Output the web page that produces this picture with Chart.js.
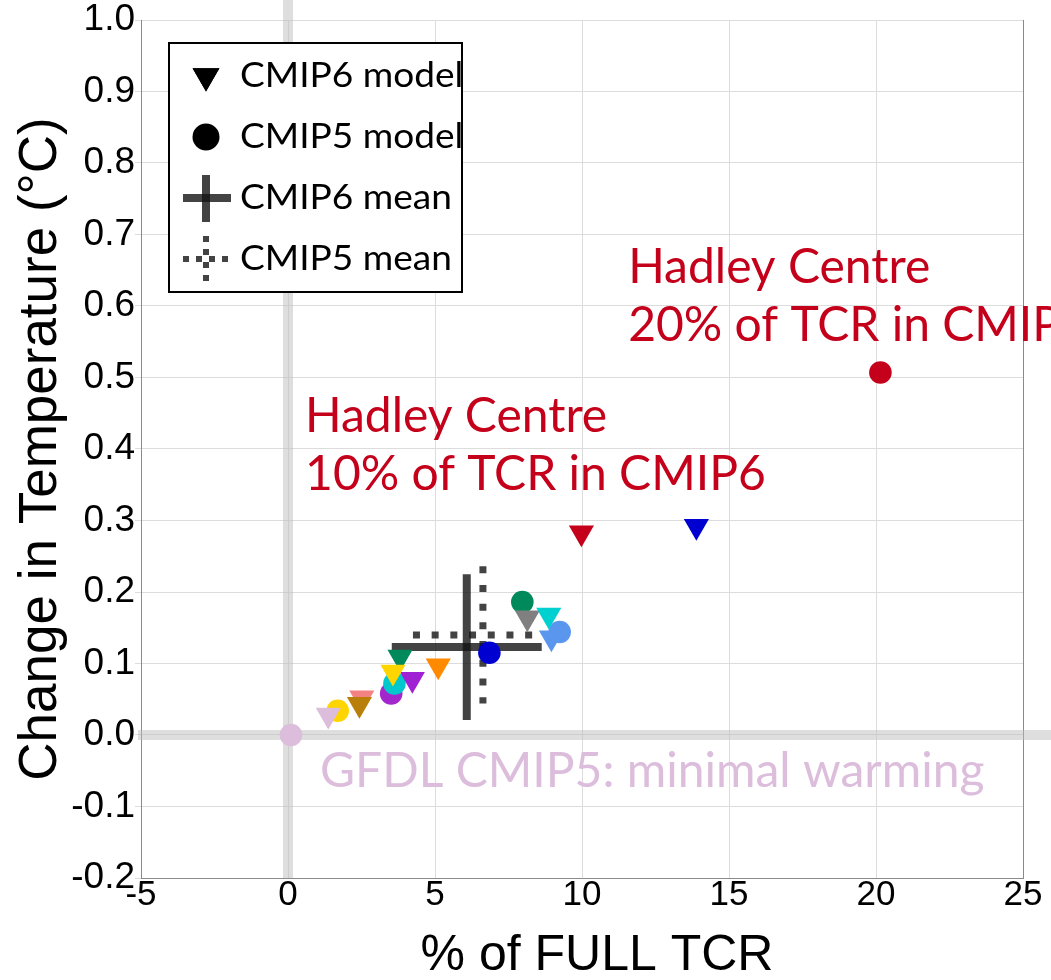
<!DOCTYPE html>
<html>
<head>
<meta charset="utf-8">
<script src="https://cdn.jsdelivr.net/npm/chart.js@4.4.1/dist/chart.umd.min.js"></script>
<style>
  html, body { margin: 0; padding: 0; background: #fff; }
  #wrap { width: 1051px; height: 980px; }
</style>
</head>
<body>
<div id="wrap"><canvas id="chart"></canvas></div>
<script>
// CMIP6 models, drawn as downward triangles
const cmip6X = [1.37, 2.51, 2.43, 3.81, 4.23, 5.11, 3.57, 8.14, 8.87, 8.96, 9.98, 13.89];
const cmip6Y = [0.028, 0.052, 0.043, 0.109, 0.078, 0.097, 0.088, 0.164, 0.168, 0.136, 0.283, 0.292];
const cmip6Colors = ['#dcbedc', '#f58282', '#b8800a', '#00895a', '#a020d4', '#ff8a00', '#ffd500',
                     '#808080', '#00d0d0', '#5b96ee', '#c4001b', '#0000d0'];

// CMIP5 models, drawn as circles
const cmip5X = [0.1, 1.69, 3.51, 3.62, 6.85, 7.97, 9.24, 20.15];
const cmip5Y = [0.0, 0.034, 0.058, 0.072, 0.115, 0.186, 0.144, 0.507];
const cmip5Colors = ['#dcbedc', '#ffd500', '#a228cc', '#00c8cc', '#0000d0', '#00895a', '#5b96ee', '#c4001b'];

// ensemble means [CMIP6, CMIP5] and the half length of each cross arm
const meanX = [6.08, 6.63];
const meanY = [0.123, 0.14];
const meanSpreadX = [2.55, 2.38];
const meanSpreadY = [0.102, 0.096];

const xTickValues = [-5, 0, 5, 10, 15, 20, 25];
const yTickValues = [-0.2, -0.1, 0.0, 0.1, 0.2, 0.3, 0.4, 0.5, 0.6, 0.7, 0.8, 0.9, 1.0];

const RED = '#c4001b';
const THISTLE = '#dcbedc';
const MEAN_COLOR = 'rgba(20,20,20,0.8)';

// text labels placed in data units
const notes = [
  { lines: ['Hadley Centre', '10% of TCR in CMIP6'], x: 0.58, y: 0.4236, color: RED },
  { lines: ['Hadley Centre', '20% of TCR in CMIP5'], x: 11.57, y: 0.632, color: RED },
  { lines: ['GFDL CMIP5: minimal warming'], x: 1.09, y: -0.0727, color: THISTLE }
];

const legendItems = [
  { label: 'CMIP6 model', kind: 'triangle' },
  { label: 'CMIP5 model', kind: 'circle' },
  { label: 'CMIP6 mean', kind: 'cross' },
  { label: 'CMIP5 mean', kind: 'dotted' }
];

Chart.defaults.font.family = "'Liberation Sans', Arial, sans-serif";
Chart.defaults.color = '#000';

function arm(x0, y0, x1, y1, dotted) {
  return {
    data: [{ x: x0, y: y0 }, { x: x1, y: y1 }],
    showLine: true,
    pointRadius: 0,
    borderColor: MEAN_COLOR,
    borderWidth: dotted ? 7 : 8,
    borderDash: dotted ? [7, 11.7] : [],
    borderCapStyle: 'butt',
    order: 1
  };
}

// wide pale lines through zero on both axes
const zeroBands = {
  id: 'zeroBands',
  beforeDatasetsDraw(chart) {
    const { ctx, chartArea, scales: { x, y } } = chart;
    const x0 = x.getPixelForValue(0);
    const y0 = y.getPixelForValue(0);
    ctx.save();
    ctx.strokeStyle = 'rgba(190,190,190,0.5)';
    ctx.lineWidth = 10;
    ctx.beginPath();
    ctx.moveTo(x0, 0);
    ctx.lineTo(x0, chartArea.bottom);
    ctx.moveTo(chartArea.left - 3, y0);
    ctx.lineTo(chart.width, y0);
    ctx.stroke();
    ctx.restore();
  }
};

const notesPlugin = {
  id: 'notes',
  afterDraw(chart) {
    const { ctx, scales: { x, y } } = chart;
    ctx.save();
    ctx.font = "48px Lato, 'Noto Sans', sans-serif";
    ctx.textBaseline = 'alphabetic';
    ctx.textAlign = 'left';
    notes.forEach(n => {
      ctx.fillStyle = n.color;
      const px = x.getPixelForValue(n.x);
      const py = y.getPixelForValue(n.y);
      n.lines.forEach((t, i) => ctx.fillText(t, px, py + i * 58));
    });
    // x axis title
    ctx.fillStyle = '#000';
    ctx.font = "50px 'Liberation Sans', Arial, sans-serif";
    ctx.textAlign = 'center';
    ctx.fillText('% of FULL TCR', 597, 970);
    ctx.restore();
  }
};

const legendBox = {
  id: 'legendBox',
  afterDraw(chart) {
    const { ctx, chartArea } = chart;
    const bl = chartArea.left + 28, bt = chartArea.top + 23, bw = 293, bh = 249;
    ctx.save();
    ctx.fillStyle = '#fff';
    ctx.fillRect(bl, bt, bw, bh);
    ctx.beginPath();
    ctx.rect(bl, bt, bw, bh);
    ctx.clip();
    const mx = bl + 37;
    legendItems.forEach((item, i) => {
      const cy = bt + 33 + i * 61;
      ctx.fillStyle = '#000';
      if (item.kind === 'triangle') {
        Chart.helpers.drawPoint(ctx, { pointStyle: 'triangle', rotation: 180, radius: 15.5, borderWidth: 0 }, mx, cy);
        ctx.fill();
      } else if (item.kind === 'circle') {
        ctx.beginPath();
        ctx.arc(mx, cy, 13.5, 0, Math.PI * 2);
        ctx.fill();
      } else {
        ctx.strokeStyle = MEAN_COLOR;
        ctx.lineCap = 'butt';
        ctx.lineWidth = item.kind === 'cross' ? 8 : 6;
        ctx.setLineDash(item.kind === 'cross' ? [] : [6, 7]);
        ctx.beginPath();
        ctx.moveTo(mx - 23, cy);
        ctx.lineTo(mx + 25, cy);
        ctx.stroke();
        ctx.beginPath();
        ctx.moveTo(mx, cy - 23);
        ctx.lineTo(mx, cy + 24);
        ctx.stroke();
        ctx.setLineDash([]);
      }
      // labels are set a little wider than the face's normal width
      ctx.save();
      ctx.fillStyle = '#000';
      ctx.font = "34px Lato, 'Noto Sans', sans-serif";
      ctx.textBaseline = 'alphabetic';
      ctx.translate(bl + 71, cy + 11);
      ctx.scale(1.09, 1);
      ctx.fillText(item.label, 0, 0);
      ctx.restore();
    });
    ctx.restore();
    ctx.save();
    ctx.lineWidth = 2;
    ctx.strokeStyle = '#000';
    ctx.strokeRect(bl, bt, bw, bh);
    ctx.restore();
  }
};

const gridColor = '#dcdcdc';

new Chart(document.getElementById('chart'), {
  type: 'scatter',
  data: {
    datasets: [
      {
        label: 'CMIP6 model',
        data: cmip6X.map((x, i) => ({ x, y: cmip6Y[i] })),
        pointStyle: 'triangle',
        pointRotation: 180,
        pointRadius: 14.5,
        pointBackgroundColor: cmip6Colors,
        pointBorderWidth: 0,
        order: 0
      },
      {
        label: 'CMIP5 model',
        data: cmip5X.map((x, i) => ({ x, y: cmip5Y[i] })),
        pointStyle: 'circle',
        pointRadius: 11.3,
        pointBackgroundColor: cmip5Colors,
        pointBorderWidth: 0,
        order: 0
      },
      arm(meanX[0] - meanSpreadX[0], meanY[0], meanX[0] + meanSpreadX[0], meanY[0], false),
      arm(meanX[0], meanY[0] + meanSpreadY[0], meanX[0], meanY[0] - meanSpreadY[0], false),
      arm(meanX[1] - meanSpreadX[1], meanY[1], meanX[1] + meanSpreadX[1], meanY[1], true),
      arm(meanX[1], meanY[1] + meanSpreadY[1], meanX[1], meanY[1] - meanSpreadY[1], true)
    ]
  },
  options: {
    responsive: true,
    maintainAspectRatio: false,
    animation: false,
    events: [],
    layout: { padding: { top: 20, right: 28, left: 0, bottom: 0 } },
    plugins: { legend: { display: false }, tooltip: { enabled: false } },
    scales: {
      x: {
        type: 'linear',
        min: -5,
        max: 25,
        afterBuildTicks: s => { s.ticks = xTickValues.map(value => ({ value })); },
        afterFit: s => { s.height = 102; },
        ticks: {
          font: { size: 35, lineHeight: 1 },
          padding: 0,
          callback: v => String(v)
        },
        grid: {
          drawTicks: false,
          color: c => (c.tick && c.tick.value === 25 ? '#8a8a8a' : gridColor)
        },
        border: { color: '#8a8a8a', width: 1 }
      },
      y: {
        type: 'linear',
        min: -0.2,
        max: 1.0,
        afterBuildTicks: s => { s.ticks = yTickValues.map(value => ({ value })); },
        afterFit: s => { s.width = 141; },
        ticks: {
          font: { size: 37, lineHeight: 1 },
          padding: 0,
          callback: v => v.toFixed(1)
        },
        grid: { tickLength: 6, color: gridColor },
        border: { color: '#8a8a8a', width: 1 },
        title: {
          display: true,
          text: 'Change in Temperature (°C)',
          font: { size: 53, lineHeight: 1.2 },
          padding: { top: 10, bottom: 0 }
        }
      }
    }
  },
  plugins: [zeroBands, notesPlugin, legendBox]
});
</script>
</body>
</html>
